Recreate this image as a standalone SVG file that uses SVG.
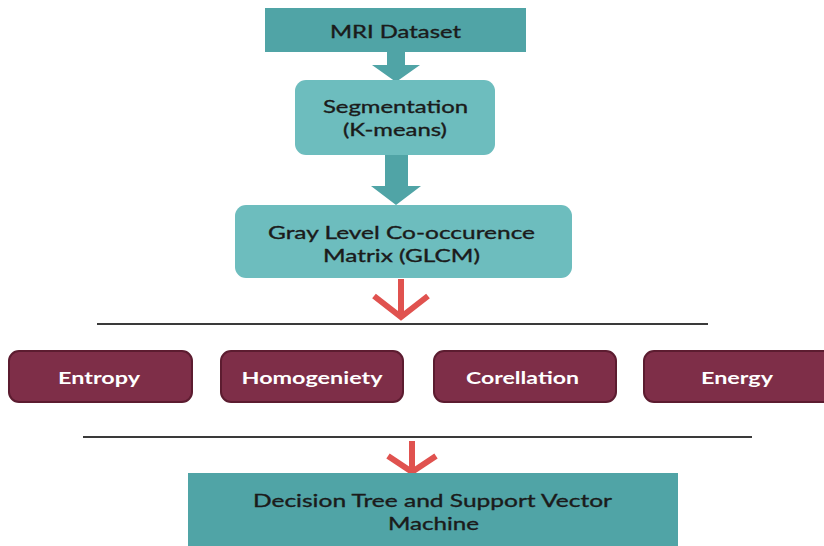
<svg xmlns="http://www.w3.org/2000/svg" width="824" height="546" viewBox="0 0 824 546">
  <style>
    .lbl { font-family: Lato, "Open Sans", sans-serif; font-size: 17.5px; fill: #1b1b1b; stroke: #1b1b1b; stroke-width: 0.35; text-anchor: middle; }
    .feat { font-family: Lato, "Open Sans", sans-serif; font-size: 17px; font-weight: bold; fill: #ffffff; text-anchor: middle; }
    .dark { fill: #50a4a6; }
    .light { fill: #6dbdbe; }
    .featbox { fill: #7e2e48; stroke: #5c1c30; stroke-width: 2; }
    .rule { stroke: #3a3a3a; stroke-width: 2; }
    .red { fill: none; stroke: #e0524f; stroke-width: 6; }
  </style>
  <rect width="824" height="546" fill="#ffffff"/>

  <g id="connectors">
    <!-- block arrows -->
    <polygon class="dark" points="387,51 405,51 405,65 420,65 396,82 372,65 387,65"/>
    <polygon class="dark" points="385,155 408,155 408,186 421,186 396,205 371,186 385,186"/>
    <!-- red arrows -->
    <path class="red" d="M401,279 V316 M374,296 L401,317 L428,296"/>
    <path class="red" d="M412,441 V471 M388,456 L412,472 L436,456"/>
    <!-- rules -->
    <line class="rule" x1="97" y1="324" x2="708" y2="324"/>
    <line class="rule" x1="83" y1="437" x2="752" y2="437"/>
  </g>

  <g id="mri">
    <rect class="dark" x="265" y="8" width="261" height="44"/>
    <text class="lbl" x="395.5" y="37.5" textLength="131" lengthAdjust="spacingAndGlyphs">MRI Dataset</text>
  </g>

  <g id="segmentation">
    <rect class="light" x="295" y="80" width="200" height="75" rx="11"/>
    <text class="lbl" x="395.5" y="113" textLength="145" lengthAdjust="spacingAndGlyphs">Segmentation</text>
    <text class="lbl" x="395" y="136" textLength="104" lengthAdjust="spacingAndGlyphs">(K-means)</text>
  </g>

  <g id="glcm">
    <rect class="light" x="235" y="205" width="337" height="73" rx="11"/>
    <text class="lbl" x="401.5" y="239" textLength="267" lengthAdjust="spacingAndGlyphs">Gray Level Co-occurence</text>
    <text class="lbl" x="401.5" y="262" textLength="157" lengthAdjust="spacingAndGlyphs">Matrix (GLCM)</text>
  </g>

  <g id="entropy">
    <rect class="featbox" x="9" y="351" width="183" height="51" rx="10"/>
    <text class="feat" x="99" y="384" textLength="82" lengthAdjust="spacingAndGlyphs">Entropy</text>
  </g>
  <g id="homogeneity">
    <rect class="featbox" x="221" y="351" width="182" height="51" rx="10"/>
    <text class="feat" x="312" y="384" textLength="141" lengthAdjust="spacingAndGlyphs">Homogeniety</text>
  </g>
  <g id="corellation">
    <rect class="featbox" x="434" y="351" width="182" height="51" rx="10"/>
    <text class="feat" x="522.5" y="384" textLength="113" lengthAdjust="spacingAndGlyphs">Corellation</text>
  </g>
  <g id="energy">
    <rect class="featbox" x="644" y="351" width="190" height="51" rx="10"/>
    <text class="feat" x="737" y="384" textLength="72" lengthAdjust="spacingAndGlyphs">Energy</text>
  </g>

  <g id="classifier">
    <rect class="dark" x="188" y="473" width="490" height="80"/>
    <text class="lbl" x="432.5" y="507" textLength="359" lengthAdjust="spacingAndGlyphs">Decision Tree and Support Vector</text>
    <text class="lbl" x="433.5" y="530" textLength="91" lengthAdjust="spacingAndGlyphs">Machine</text>
  </g>
</svg>
